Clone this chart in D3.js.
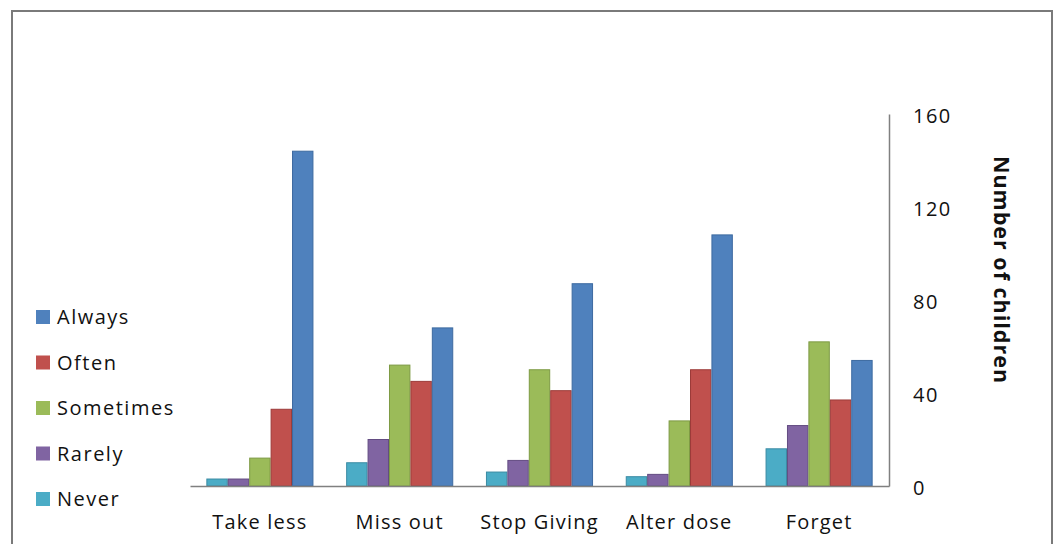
<!DOCTYPE html>
<html>
<head>
<meta charset="utf-8">
<script src="https://cdn.jsdelivr.net/npm/d3@7"></script>
<style>
  html, body { margin: 0; padding: 0; background: #fff; }
  svg { display: block; }
  text { font-family: "Open Sans", Lato, sans-serif; fill: #111; }
</style>
</head>
<body>
<svg id="chart" width="1057" height="544"></svg>
<script>
// Reasons categories along the x axis
const categories = ["Take less", "Miss out", "Stop Giving", "Alter dose", "Forget"];
// Response frequency series, drawn left to right within each group
const seriesNames = ["Never", "Rarely", "Sometimes", "Often", "Always"];
const never     = [3, 10, 6, 4, 16];
const rarely    = [3, 20, 11, 5, 26];
const sometimes = [12, 52, 50, 28, 62];
const often     = [33, 45, 41, 50, 37];
const always    = [144, 68, 87, 108, 54];
const seriesValues = [never, rarely, sometimes, often, always];
const seriesColors = ["#4bacc6", "#8064a2", "#9bbb59", "#c0504d", "#4f81bd"];
const seriesStroke = ["#3a8ba3", "#634c82", "#7d9a44", "#9c3b39", "#3d6aa0"];
const yTicks = [0, 40, 80, 120, 160];
const yTitle = "Number of children";
// Legend lists the series from top to bottom in reverse order
const legendOrder = ["Always", "Often", "Sometimes", "Rarely", "Never"];

const svg = d3.select("#chart");

// Outer frame
svg.append("path")
  .attr("d", "M12,560 L12,11 L1052,11 L1052,560")
  .attr("fill", "none")
  .attr("stroke", "#7a7a7a")
  .attr("stroke-width", 2);

const plot = { left: 190, right: 889, top: 114, bottom: 486 };

const x0 = d3.scaleBand()
  .domain(categories)
  .range([plot.left, plot.right])
  .paddingInner(0.234)
  .paddingOuter(0.117);

const x1 = d3.scaleBand()
  .domain(seriesNames)
  .range([0, x0.bandwidth()])
  .padding(0);

const y = d3.scaleLinear()
  .domain([0, 160])
  .range([plot.bottom, plot.top]);

// Bars
const groups = svg.append("g").selectAll("g")
  .data(categories)
  .join("g")
  .attr("transform", d => `translate(${x0(d)},0)`);

groups.selectAll("rect")
  .data((c, ci) => seriesNames.map((s, si) => ({ s, si, v: seriesValues[si][ci] })))
  .join("rect")
  .attr("x", d => x1(d.s) + 0.5)
  .attr("y", d => y(d.v))
  .attr("width", x1.bandwidth() - 1)
  .attr("height", d => y(0) - y(d.v))
  .attr("fill", d => seriesColors[d.si])
  .attr("stroke", d => seriesStroke[d.si])
  .attr("stroke-width", 1);

// Category axis (baseline + labels)
const xAxis = d3.axisBottom(x0).tickSize(0).tickPadding(29);
const gx = svg.append("g")
  .attr("transform", `translate(0,${plot.bottom})`)
  .call(xAxis);
gx.select(".domain").attr("stroke", "#808080").attr("stroke-width", 1.5);
gx.selectAll("text")
  .style("font-size", "20px")
  .style("font-family", "'Open Sans', Lato, sans-serif")
  .style("letter-spacing", "1.2px")
  .attr("fill", "#111");

// Value axis on the right
const yAxis = d3.axisRight(y).tickValues(yTicks).tickSize(0).tickPadding(24);
const gy = svg.append("g")
  .attr("transform", `translate(${plot.right},0)`)
  .call(yAxis);
gy.select(".domain").attr("stroke", "#808080").attr("stroke-width", 1.5);
gy.selectAll("text")
  .style("font-size", "20px")
  .style("font-family", "'Open Sans', Lato, sans-serif")
  .style("letter-spacing", "1.5px")
  .attr("fill", "#111")
  .attr("dy", "0.4em");

// Axis title, rotated to read downward
svg.append("text")
  .attr("transform", `translate(994,270) rotate(90)`)
  .attr("text-anchor", "middle")
  .style("font-size", "21.5px")
  .style("font-weight", "bold")
  .style("letter-spacing", "1px")
  .text(yTitle);

// Legend
const legend = svg.append("g").selectAll("g")
  .data(legendOrder)
  .join("g")
  .attr("transform", (d, i) => `translate(36,${310 + i * 45.5})`);

legend.append("rect")
  .attr("width", 14)
  .attr("height", 14)
  .attr("fill", d => seriesColors[seriesNames.indexOf(d)]);

legend.append("text")
  .attr("x", 21)
  .attr("y", 14)
  .style("font-size", "20px")
  .style("letter-spacing", "1.5px")
  .text(d => d);
</script>
</body>
</html>
